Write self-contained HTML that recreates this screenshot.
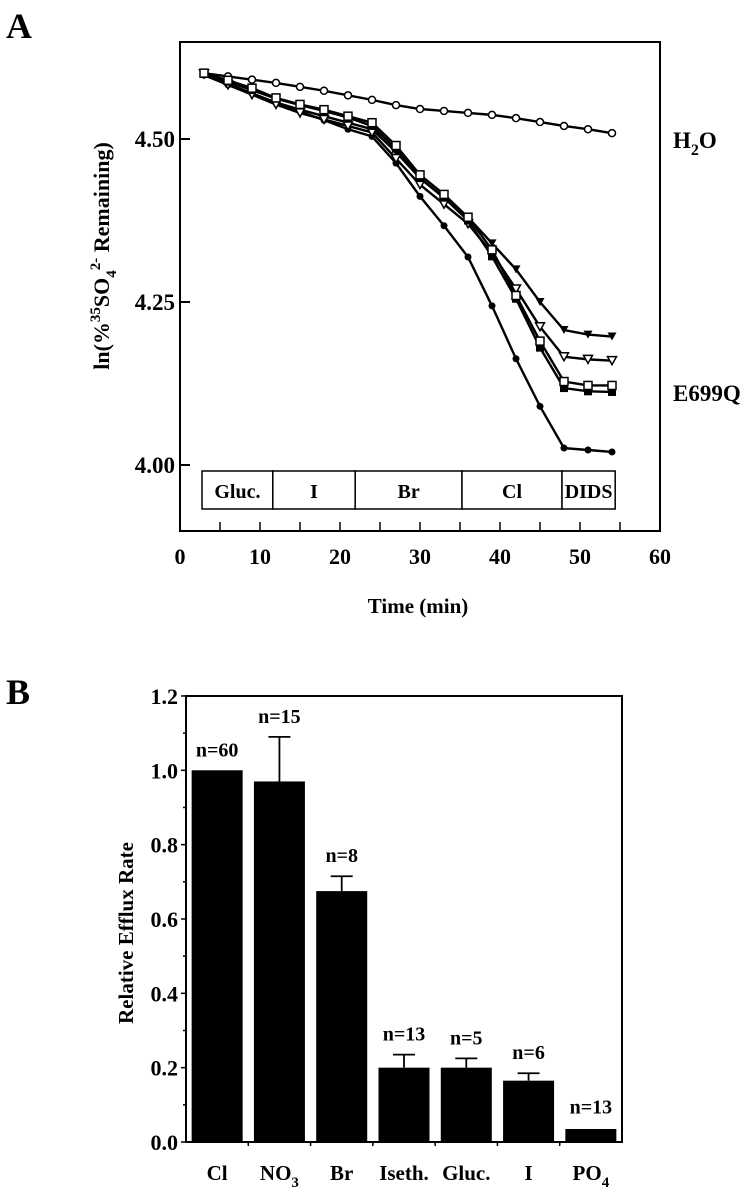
<!DOCTYPE html>
<html><head><meta charset="utf-8"><style>
html,body{margin:0;padding:0;background:#fff;}
svg{display:block;font-family:"Liberation Serif",serif;font-weight:bold;}
</style></head><body>
<svg id="fig" width="755" height="1199" viewBox="0 0 755 1199">
<text x="6" y="38" font-size="36">A</text>
<text x="6" y="704" font-size="36">B</text>
<g id="pa"></g>
<g id="pb"></g>
</svg>
<script>
const NS="http://www.w3.org/2000/svg";
// ---- Panel A data ----
const times=[3,6,9,12,15,18,21,24,27,30,33,36,39,42,45,48,51,54];
const h2o=[4.601,4.596,4.591,4.586,4.580,4.574,4.567,4.560,4.552,4.546,4.543,4.540,4.537,4.532,4.526,4.520,4.515,4.509];
const circFilled=[4.598,4.583,4.570,4.555,4.542,4.529,4.515,4.504,4.463,4.412,4.367,4.319,4.244,4.163,4.090,4.026,4.023,4.020];
const sqOpen=[4.601,4.590,4.578,4.563,4.553,4.545,4.535,4.525,4.490,4.445,4.415,4.380,4.330,4.260,4.190,4.128,4.122,4.122];
const sqFilled=[4.600,4.588,4.575,4.562,4.552,4.543,4.533,4.520,4.485,4.440,4.410,4.375,4.320,4.255,4.180,4.118,4.113,4.112];
const triFilled=[4.600,4.585,4.570,4.556,4.545,4.535,4.525,4.515,4.480,4.440,4.410,4.380,4.340,4.300,4.250,4.207,4.200,4.197];
const triOpen=[4.600,4.583,4.568,4.553,4.540,4.530,4.520,4.510,4.470,4.430,4.400,4.370,4.325,4.270,4.212,4.166,4.162,4.160];
const yTicksA=[4.00,4.25,4.50];
const xTicksA=[0,10,20,30,40,50,60];
const solNames=["Gluc.","I","Br","Cl","DIDS"];
const solEdges=[2.75,11.6,21.9,35.25,47.75,54.4];
// ---- Panel B data ----
const cats=["Cl","NO3","Br","Iseth.","Gluc.","I","PO4"];
const vals=[1.0,0.97,0.675,0.20,0.20,0.165,0.035];
const errs=[0,0.12,0.04,0.035,0.025,0.02,0.004];
const nLabels=["n=60","n=15","n=8","n=13","n=5","n=6","n=13"];
const yTicksB=[0.0,0.2,0.4,0.6,0.8,1.0,1.2];

function el(tag,attrs,parent,text){const e=document.createElementNS(NS,tag);for(const k in attrs)e.setAttribute(k,attrs[k]);if(text!==undefined)e.textContent=text;parent.appendChild(e);return e;}

// Panel A
const pa=document.getElementById('pa');
const AX0=180,AX1=660,AY0=42,AY1=531;
const xA=t=>AX0+t*8;
const yA=v=>465-(v-4.0)*652;
let r=el('rect',{x:AX0,y:AY0,width:AX1-AX0,height:AY1-AY0,fill:'none',stroke:'#000','stroke-width':2},pa);

yTicksA.forEach(v=>{
 let l=el('line',{x1:AX0,x2:AX0+10,y1:yA(v),y2:yA(v),stroke:'#000','stroke-width':2},pa);
 
 let t=el('text',{x:AX0-5,y:yA(v)+8,'font-size':23,'text-anchor':'end'},pa,v.toFixed(2));
 
});
for(let t=5;t<60;t+=5){
 let l=el('line',{x1:xA(t),x2:xA(t),y1:AY1,y2:AY1-9,stroke:'#000','stroke-width':1.5},pa);
 
}
xTicksA.forEach(v=>{
 let t=el('text',{x:xA(v),y:AY1+33,'font-size':22,'text-anchor':'middle'},pa,String(v));
 
});
let xt=el('text',{x:418,y:613,'font-size':21,'text-anchor':'middle'},pa,'Time (min)');

let yt=el('text',{transform:'translate(109,256) rotate(-90)','font-size':22,'text-anchor':'middle'},pa);

yt.innerHTML='ln(%<tspan dy="-9" font-size="15">35</tspan><tspan dy="9">SO</tspan><tspan dy="7" font-size="15">4</tspan><tspan dy="-16" font-size="15">2-</tspan><tspan dy="9"> Remaining)</tspan>';
// solution box
solNames.forEach((n,i)=>{
 let b=el('rect',{x:xA(solEdges[i]),y:471,width:xA(solEdges[i+1])-xA(solEdges[i]),height:38,fill:'#fff',stroke:'#000','stroke-width':1.5},pa);
 
 let t=el('text',{x:(xA(solEdges[i])+xA(solEdges[i+1]))/2,y:498,'font-size':20,'text-anchor':'middle'},pa,n);
 
});
function series(vals,marker,name){
 const g=el('g',{},pa);
 el('polyline',{points:times.map((t,i)=>xA(t)+','+yA(vals[i])).join(' '),fill:'none',stroke:'#000','stroke-width':2.4},g);
 times.forEach((t,i)=>{
  const x=xA(t),y=yA(vals[i]);let m;
  if(marker==='circO')m=el('circle',{cx:x,cy:y,r:3.5,fill:'#fff',stroke:'#000','stroke-width':1.5},g);
  else if(marker==='circF')m=el('circle',{cx:x,cy:y,r:3.5,fill:'#000'},g);
  else if(marker==='sqO')m=el('rect',{x:x-4,y:y-4,width:8,height:8,fill:'#fff',stroke:'#000','stroke-width':1.5},g);
  else if(marker==='sqF')m=el('rect',{x:x-4,y:y-4,width:8,height:8,fill:'#000'},g);
  else if(marker==='triF')m=el('polygon',{points:`${x-4.5},${y-4} ${x+4.5},${y-4} ${x},${y+4}`,fill:'#000'},g);
  else m=el('polygon',{points:`${x-4.5},${y-4} ${x+4.5},${y-4} ${x},${y+4}`,fill:'#fff',stroke:'#000','stroke-width':1.5},g);
  
 });
}
series(h2o,'circO','series-h2o');
series(circFilled,'circF','series-filled-circle');
series(triFilled,'triF','series-filled-triangle');
series(triOpen,'triO','series-open-triangle');
series(sqFilled,'sqF','series-filled-square');
series(sqOpen,'sqO','series-open-square');
let h=el('text',{x:673,y:148,'font-size':23},pa);h.innerHTML='H<tspan dy="7" font-size="16">2</tspan><tspan dy="-7">O</tspan>';

let e=el('text',{x:673,y:401,'font-size':23},pa,'E699Q');


// Panel B
const pb=document.getElementById('pb');
const BX0=186,BX1=622,BY0=696,BY1=1142;
const yB=v=>BY1-v*371.7;
const band=(BX1-BX0)/cats.length;
const xB=i=>BX0+band*(i+0.5);
let rb=el('rect',{x:BX0,y:BY0,width:BX1-BX0,height:BY1-BY0,fill:'none',stroke:'#000','stroke-width':2},pb);

for(let k=0;k<=12;k++){
 const v=k/10;
 let l=el('line',{x1:BX0-(k%2===0?5:3),x2:BX0,y1:yB(v),y2:yB(v),stroke:'#000','stroke-width':1.5},pb);
 
}
yTicksB.forEach(v=>{
 let t=el('text',{x:BX0-8,y:yB(v)+8,'font-size':22,'text-anchor':'end'},pb,v.toFixed(1));
 
});
for(let i=1;i<cats.length;i++){
 let l=el('line',{x1:BX0+band*i,x2:BX0+band*i,y1:BY1,y2:BY1+4,stroke:'#000','stroke-width':1.5},pb);
 
}
let ytb=el('text',{transform:'translate(133,933) rotate(-90)','font-size':21,'text-anchor':'middle'},pb,'Relative Efflux Rate');

cats.forEach((c,i)=>{
 const cx=xB(i),w=51;
 if(errs[i]>0.005){
  let eb=el('path',{d:`M${cx},${yB(vals[i])} V${yB(vals[i]+errs[i])} M${cx-11},${yB(vals[i]+errs[i])} H${cx+11}`,stroke:'#000','stroke-width':1.8,fill:'none'},pb);
  
 }
 let b=el('rect',{x:cx-w/2,y:yB(vals[i]),width:w,height:BY1-yB(vals[i]),fill:'#000'},pb);
 
 let n=el('text',{x:cx,y:yB(vals[i]+errs[i])-14,'font-size':20,'text-anchor':'middle'},pb,nLabels[i]);
 
 let t=el('text',{x:cx,y:1180,'font-size':21,'text-anchor':'middle'},pb);
 const m=c.match(/^([A-Za-z]+)(\d)$/);
 if(m){t.innerHTML=m[1]+'<tspan dy="7" font-size="15">'+m[2]+'</tspan>';}else t.textContent=c;
 
});
</script>
</body></html>
